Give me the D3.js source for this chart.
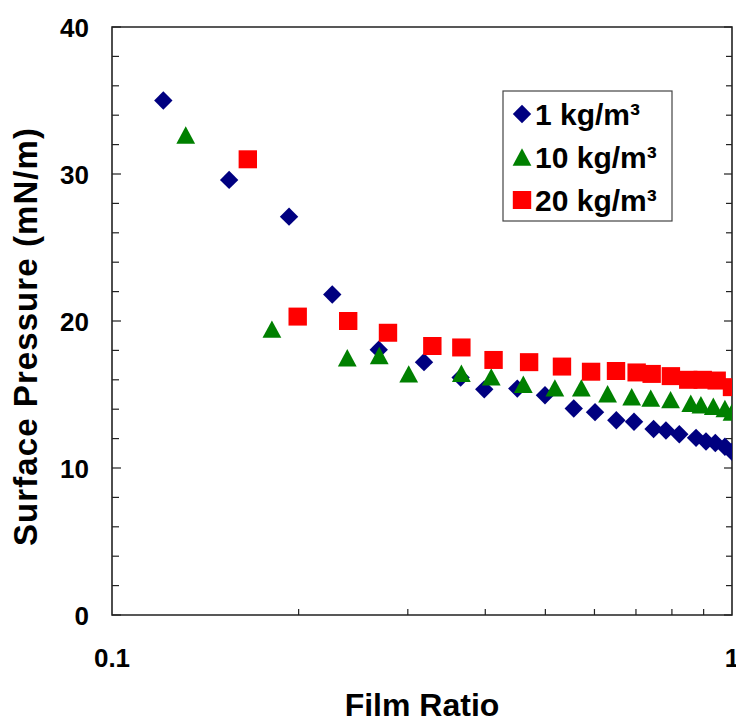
<!DOCTYPE html>
<html>
<head>
<meta charset="utf-8">
<title>Surface Pressure vs Film Ratio</title>
<style>
  body { margin: 0; background: #fff; }
  svg { display: block; font-family: "Liberation Sans", Arial, sans-serif; font-weight: bold; }
</style>
</head>
<body>
<div id="chart"></div>
<script src="https://d3js.org/d3.v7.min.js"></script>
<script>
// film ratio / surface pressure
var ratio1 = [0.121, 0.1545, 0.193, 0.2266, 0.2693, 0.3186, 0.365, 0.3985, 0.4505, 0.4993, 0.5556,
              0.6013, 0.6508, 0.695, 0.7474, 0.7825, 0.8223, 0.875, 0.908, 0.94, 0.974, 1.0];
var press1 = [35.0, 29.6, 27.1, 21.8, 18.05, 17.2, 16.15, 15.35, 15.4, 14.95, 14.05,
              13.8, 13.25, 13.15, 12.65, 12.55, 12.3, 12.05, 11.8, 11.7, 11.45, 11.1];

var ratio10 = [0.1315, 0.1811, 0.2396, 0.2698, 0.301, 0.366, 0.409, 0.4607, 0.518, 0.5715,
               0.63, 0.689, 0.7395, 0.796, 0.858, 0.891, 0.933, 0.974, 1.0];
var press10 = [32.65, 19.45, 17.5, 17.65, 16.4, 16.45, 16.2, 15.7, 15.45, 15.45,
               15.05, 14.85, 14.75, 14.65, 14.4, 14.3, 14.2, 14.05, 13.8];

var ratio20 = [0.1656, 0.1993, 0.2404, 0.2787, 0.3286, 0.366, 0.4125, 0.4707, 0.5318,
               0.5925, 0.65, 0.7018, 0.742, 0.797, 0.85, 0.897, 0.9447, 1.0];
var press20 = [31.0, 20.3, 20.0, 19.2, 18.3, 18.2, 17.35, 17.2, 16.9,
               16.55, 16.6, 16.5, 16.4, 16.25, 16.0, 16.0, 15.95, 15.5];

var seriesNames = ["1 kg/m\u00b3", "10 kg/m\u00b3", "20 kg/m\u00b3"];
var seriesColors = ["#000080", "#008000", "#ff0000"];
var seriesShapes = ["diamond", "triangle", "square"];

var yTicks = [0, 10, 20, 30, 40];
var xTickLabels = ["0.1", "1"];

var width = 736, height = 719;
// note: "top" is taken by window.top, so plot edges get their own names
var plotL = 112, plotR = 732, plotT = 27, plotB = 615;

var x = d3.scaleLog().domain([0.1, 1]).range([plotL, plotR]);
var y = d3.scaleLinear().domain([0, 40]).range([plotB, plotT]);

var svg = d3.select("#chart").append("svg")
  .attr("width", width)
  .attr("height", height);

svg.append("defs").append("clipPath").attr("id", "plot")
  .append("rect").attr("x", plotL).attr("y", plotT - 20)
  .attr("width", plotR - plotL).attr("height", plotB - plotT + 20);

function shapePath(kind) {
  if (kind == "diamond") return "M0,-9.2L9.2,0L0,9.2L-9.2,0Z";
  if (kind == "triangle") return "M0,-8.7L9.4,8.7L-9.4,8.7Z";
  return "M-9.2,-9L9.2,-9L9.2,9L-9.2,9Z";
}

var data = [
  d3.zip(ratio1, press1),
  d3.zip(ratio10, press10),
  d3.zip(ratio20, press20)
];

// frame
var axisColor = "#222";
var frame = svg.append("g").attr("stroke", axisColor).attr("stroke-width", 1.6).attr("fill", "none");
frame.append("path").attr("d", "M" + plotL + "," + plotT + "H" + plotR + "V" + plotB + "H" + plotL + "Z");

// y ticks every 2, both sides pointing in
var yMinor = d3.range(0, 41, 2);
frame.selectAll(".ytl").data(yMinor).enter().append("line")
  .attr("x1", plotL).attr("x2", function(d) { return plotL + (d % 10 == 0 ? 9 : 7); })
  .attr("y1", function(d) { return y(d); }).attr("y2", function(d) { return y(d); })
  .attr("stroke-width", 1.2);
frame.selectAll(".ytr").data(yMinor).enter().append("line")
  .attr("x1", plotR).attr("x2", function(d) { return plotR - (d % 10 == 0 ? 8 : 6); })
  .attr("y1", function(d) { return y(d); }).attr("y2", function(d) { return y(d); })
  .attr("stroke-width", 1.2);

// x minor ticks
var xMinor = d3.range(2, 10).map(function(d) { return d / 10; });
frame.selectAll(".xt").data(xMinor).enter().append("line")
  .attr("x1", function(d) { return x(d); }).attr("x2", function(d) { return x(d); })
  .attr("y1", plotB).attr("y2", plotB - 6)
  .attr("stroke-width", 1.2);

// tick labels
svg.selectAll(".ylab").data(yTicks).enter().append("text")
  .attr("x", 89).attr("y", function(d) { return y(d) + 10; })
  .attr("text-anchor", "end").attr("font-size", 26)
  .text(function(d) { return d; });

svg.selectAll(".xlab").data(xTickLabels).enter().append("text")
  .attr("x", function(d) { return x(+d); }).attr("y", 667)
  .attr("text-anchor", "middle").attr("font-size", 26)
  .text(function(d) { return d; });

// axis titles
svg.append("text").attr("x", 422).attr("y", 716)
  .attr("text-anchor", "middle").attr("font-size", 32)
  .text("Film Ratio");
svg.append("text")
  .attr("transform", "translate(37,337) rotate(-90)")
  .attr("text-anchor", "middle").attr("font-size", 33)
  .attr("textLength", 418).attr("lengthAdjust", "spacing")
  .text("Surface Pressure (mN/m)");

// points
var plot = svg.append("g").attr("clip-path", "url(#plot)");
data.forEach(function(pts, i) {
  plot.append("g").selectAll("path").data(pts).enter().append("path")
    .attr("d", shapePath(seriesShapes[i]))
    .attr("transform", function(d) { return "translate(" + x(d[0]) + "," + y(d[1]) + ")"; })
    .attr("fill", seriesColors[i]);
});

// legend
var legend = svg.append("g");
legend.append("rect").attr("x", 503).attr("y", 91).attr("width", 169).attr("height", 130)
  .attr("fill", "#fff").attr("stroke", "#444").attr("stroke-width", 1.2);
var items = legend.selectAll(".item").data(seriesNames).enter().append("g")
  .attr("transform", function(d, i) { return "translate(0," + (114 + i * 43) + ")"; });
items.append("path")
  .attr("d", function(d, i) { return shapePath(seriesShapes[i]); })
  .attr("transform", "translate(522,0)")
  .attr("fill", function(d, i) { return seriesColors[i]; });
items.append("text").attr("x", 535).attr("y", 11)
  .attr("font-size", 30)
  .text(function(d) { return d; });
</script>
</body>
</html>
